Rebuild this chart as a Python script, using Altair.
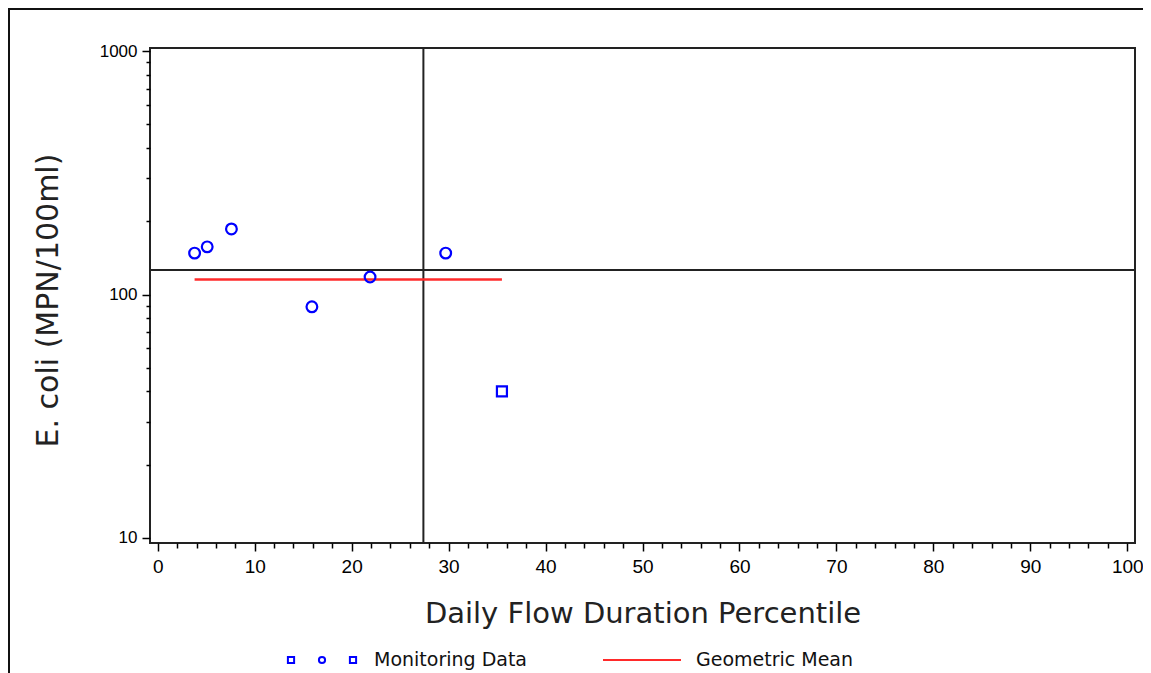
import altair as alt
import pandas as pd
import numpy as np

# ---- data ----
pct = [3.8, 5.1, 7.6, 15.9, 21.9, 29.7, 35.5]
ecoli = [148, 157, 186, 89, 118, 148, 40]
marker = ["circle", "circle", "circle", "circle", "circle", "circle", "square"]
x_ticks = list(range(0, 101, 2))
y_ticks = [10, 20, 30, 40, 50, 60, 70, 80, 90,
           100, 200, 300, 400, 500, 600, 700, 800, 900, 1000]
crit_pct = [27.4]
crit_ecoli = [126]
point_series = ["Monitoring Data"]
line_series = ["Geometric Mean"]
point_color = ["#0000ff"]
line_color = ["#ff2a2a"]

df = pd.DataFrame({"pct": pct, "ecoli": ecoli, "marker": marker,
                   "series": point_series[0]})
gm = float(np.exp(np.log(np.array(ecoli, dtype=float)).mean()))
gm_df = pd.DataFrame({"pct": [min(pct), max(pct)], "ecoli": [gm, gm],
                      "series": line_series[0]})

W, H = 985, 495
PAD = {"left": 142, "top": 40, "right": 8, "bottom": 130}

x_enc = alt.X(
    "pct:Q",
    scale=alt.Scale(domain=[-0.8, 100.8], nice=False, zero=False),
    axis=alt.Axis(
        values=x_ticks,
        labelExpr="datum.value % 10 == 0 ? '' + datum.value : ''",
        tickSize={"condition": {"test": "datum.value % 10 == 0", "value": 8}, "value": 5},
        labelFont="Liberation Sans", labelFontSize=19, labelColor="#000",
        labelPadding=6, tickColor="#000", tickWidth=1.5, domain=False, grid=False,
        title="Daily Flow Duration Percentile", titleY=79, titleBaseline="alphabetic",
        titleFont="DejaVu Sans", titleFontSize=29, titleFontWeight="normal",
        titleColor="#222",
    ),
)
y_enc = alt.Y(
    "ecoli:Q",
    scale=alt.Scale(type="log", domain=[9.52, 1031], nice=False),
    axis=alt.Axis(
        values=y_ticks,
        labelExpr="(datum.value == 10 || datum.value == 100 || datum.value == 1000) ? '' + datum.value : ''",
        tickSize={"condition": {"test": "datum.value == 10 || datum.value == 100 || datum.value == 1000", "value": 8}, "value": 4},
        labelFont="Liberation Sans", labelFontSize=17, labelColor="#000",
        labelPadding=5, tickColor="#000", tickWidth=1.5, domain=False, grid=False,
        title="E. coli (MPN/100ml)", titleX=-93, titleY=252, titleBaseline="alphabetic",
        titleFont="DejaVu Sans", titleFontSize=30, titleFontWeight="normal",
        titleColor="#222",
    ),
)

# legend symbol for the monitoring data: square, circle, square (as in the reference)
three_markers = ("M-1.1,-0.1H-0.9V0.1H-1.1Z "
                 "M-0.1,0A0.1,0.1,0,1,0,0.1,0A0.1,0.1,0,1,0,-0.1,0Z "
                 "M0.9,-0.1H1.1V0.1H0.9Z")

base = alt.Chart(df)

pts = base.transform_filter("datum.marker == 'circle'").mark_point(
    filled=False, strokeWidth=2.2, opacity=1, size=115
).encode(
    x=x_enc, y=y_enc,
    color=alt.Color("series:N", scale=alt.Scale(domain=point_series, range=point_color),
                    legend=alt.Legend(title=None, orient="none", legendX=140, legendY=580,
                                      symbolType=three_markers, symbolSize=3844,
                                      symbolStrokeWidth=2, labelOffset=20, padding=0)),
)

sq = base.transform_filter("datum.marker == 'square'").mark_point(
    shape="square", filled=False, strokeWidth=2.2, size=100, color="#0000ff", opacity=1
).encode(x=x_enc, y=y_enc)

gm_line = alt.Chart(gm_df).mark_line(strokeWidth=2.5).encode(
    x=x_enc, y=y_enc,
    stroke=alt.Stroke("series:N", scale=alt.Scale(domain=line_series, range=line_color),
                      legend=alt.Legend(title=None, orient="none", legendX=452, legendY=572,
                                        symbolType="stroke", symbolSize=6084,
                                        symbolStrokeWidth=2, labelOffset=14, padding=0)),
)

vrule = alt.Chart(pd.DataFrame({"pct": crit_pct})).mark_rule(color="#222", strokeWidth=2).encode(x=x_enc)
hrule = alt.Chart(pd.DataFrame({"ecoli": crit_ecoli})).mark_rule(color="#222", strokeWidth=2).encode(y=y_enc)

# page frame (top and left edges of the screenshot border)
frame_left = alt.Chart(pd.DataFrame({"a": [0]})).mark_rule(color="#111", strokeWidth=2).encode(
    x=alt.value(-141), y=alt.value(-40), y2=alt.value(H + PAD["bottom"]))
frame_top = alt.Chart(pd.DataFrame({"a": [0]})).mark_rule(color="#111", strokeWidth=2).encode(
    x=alt.value(-142), x2=alt.value(W + PAD["right"]), y=alt.value(-39))

chart = alt.layer(frame_left, frame_top, hrule, vrule, gm_line, pts, sq).properties(
    width=W, height=H, padding=PAD,
    autosize=alt.AutoSizeParams(type="none"),
    background="white",
).configure_view(
    stroke="#222", strokeWidth=2
).configure_legend(
    labelFont="DejaVu Sans", labelFontSize=19, labelColor="#111",
)

chart.save("out.html", embed_options={"renderer": "svg", "actions": False})
